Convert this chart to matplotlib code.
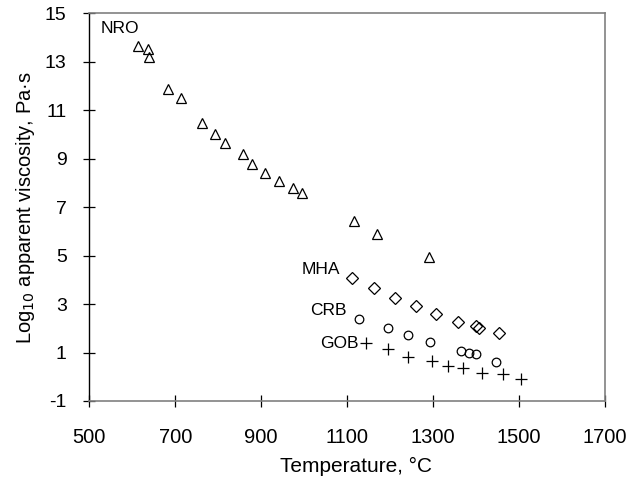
import matplotlib
matplotlib.use("Agg")
import matplotlib.pyplot as plt

plt.rcParams['font.family'] = ['Liberation Sans', 'DejaVu Sans']
plt.rcParams['axes.unicode_minus'] = False

# NRO (triangles)
nro_t = [614, 636, 639, 684, 713, 763, 792, 817, 858, 879, 909, 942, 975, 996, 1116, 1170, 1291]
nro_v = [13.67, 13.53, 13.19, 11.88, 11.52, 10.49, 10.01, 9.67, 9.19, 8.77, 8.43, 8.08, 7.81, 7.60, 6.43, 5.88, 4.96]

# MHA (diamonds)
mha_t = [1112, 1162, 1212, 1260, 1307, 1359, 1401, 1408, 1453]
mha_v = [4.09, 3.68, 3.27, 2.92, 2.58, 2.28, 2.10, 2.02, 1.80]

# CRB (circles)
crb_t = [1128, 1196, 1241, 1292, 1366, 1383, 1400, 1446]
crb_v = [2.37, 2.00, 1.74, 1.45, 1.07, 1.00, 0.93, 0.62]

# GOB (plus)
gob_t = [1144, 1196, 1241, 1297, 1334, 1370, 1413, 1463, 1506]
gob_v = [1.41, 1.13, 0.80, 0.65, 0.45, 0.38, 0.17, 0.10, -0.10]

x_ticks = [500, 700, 900, 1100, 1300, 1500, 1700]
y_ticks = [-1, 1, 3, 5, 7, 9, 11, 13, 15]

fig = plt.figure(figsize=(6.32, 4.87), dpi=100)
ax = fig.add_axes([0.1413, 0.1766, 0.8157, 0.7957])

ax.plot(nro_t, nro_v, ls='none', marker='^', ms=7.5, mfc='none', mec='black', mew=0.9)
ax.plot(mha_t, mha_v, ls='none', marker='D', ms=6.2, mfc='none', mec='black', mew=0.9)
ax.plot(crb_t, crb_v, ls='none', marker='o', ms=6.2, mfc='none', mec='black', mew=0.9)
ax.plot(gob_t, gob_v, ls='none', marker='+', ms=9, mec='black', mew=0.9)

ax.text(527, 14.38, "NRO", fontsize=12.5, ha='left', va='center')
ax.text(1083, 4.41, "MHA", fontsize=12.5, ha='right', va='center')
ax.text(1099, 2.72, "CRB", fontsize=12.5, ha='right', va='center')
ax.text(1126, 1.37, "GOB", fontsize=12.5, ha='right', va='center')

ax.set_xlim(500, 1700)
ax.set_ylim(-1, 15)
ax.set_xticks(x_ticks)
ax.set_yticks(y_ticks)
ax.tick_params(direction='inout', length=8.5, width=0.9, color='black')
ax.tick_params(axis='x', labelsize=14.5, pad=15)
ax.tick_params(axis='y', labelsize=14, pad=12)

for s in ['top', 'right', 'bottom']:
    ax.spines[s].set_color('#808080')
    ax.spines[s].set_linewidth(1.2)
ax.spines['left'].set_color('black')
ax.spines['left'].set_linewidth(1.0)

ax.set_xlabel("Temperature, \u00b0C", fontsize=15)
ax.xaxis.set_label_coords(0.518, -0.145, transform=ax.transAxes)
ax.xaxis.label.set_va('top')
ax.set_ylabel("Log$_{10}$ apparent viscosity, Pa\u00b7s", fontsize=14.5, labelpad=6)

fig.savefig("out.png", dpi=100)
